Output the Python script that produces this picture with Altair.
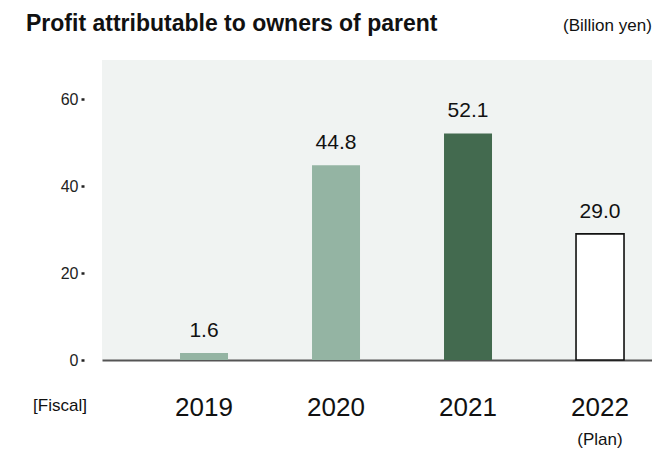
import altair as alt
import pandas as pd

years = ["2019", "2020", "2021", "2022"]
profits = [1.6, 44.8, 52.1, 29.0]
fills = ["#94b4a3", "#94b4a3", "#436a4f", "#ffffff"]
strokes = ["transparent", "transparent", "transparent", "#111111"]
y_ticks = [0, 20, 40, 60]

title_text = "Profit attributable to owners of parent"
unit_text = "(Billion yen)"
fiscal_text = "[Fiscal]"
plan_text = "(Plan)"

FONT = "Liberation Sans"

df = pd.DataFrame({"year": years, "profit": profits})

x_enc = alt.X(
    "year:N",
    sort=years,
    scale=alt.Scale(paddingInner=0.6364, paddingOuter=0.4015, align=0.736),
    axis=alt.Axis(
        title=None, labelAngle=0, ticks=False, labelPadding=34,
        labelFontSize=26, labelFont=FONT, labelColor="#111111",
        domainColor="#555555", domainWidth=2, grid=False,
    ),
)
y_enc = alt.Y(
    "profit:Q",
    scale=alt.Scale(domain=[0, 69], nice=False),
    axis=alt.Axis(
        title=None, values=y_ticks, offset=18, tickSize=3, tickWidth=2.5,
        tickColor="#222222", domain=False, grid=False, labelPadding=3,
        labelFontSize=16, labelFont=FONT, labelColor="#222222",
    ),
)

base = alt.Chart(df)

bars = base.mark_bar(strokeWidth=1.6).encode(
    x=x_enc,
    y=y_enc,
    fill=alt.Fill("year:N", scale=alt.Scale(domain=years, range=fills), legend=None),
    stroke=alt.Stroke("year:N", scale=alt.Scale(domain=years, range=strokes), legend=None),
)

labels = base.mark_text(
    baseline="alphabetic", dy=-16, fontSize=21, font=FONT, color="#111111"
).encode(
    x=alt.X("year:N", sort=years),
    y=alt.Y("profit:Q"),
    text=alt.Text("profit:Q", format=".1f"),
)

ann = pd.DataFrame({"t": [0]})
title_mark = alt.Chart(ann).mark_text(
    text=title_text, align="left", baseline="alphabetic", fontSize=23,
    fontWeight="bold", font=FONT, color="#111111",
).encode(x=alt.value(-76), y=alt.value(-29))

unit_mark = alt.Chart(ann).mark_text(
    text=unit_text, align="left", baseline="alphabetic", fontSize=17,
    font=FONT, color="#111111",
).encode(x=alt.value(461), y=alt.value(-29))

fiscal_mark = alt.Chart(ann).mark_text(
    text=fiscal_text, align="center", baseline="middle", fontSize=17,
    font=FONT, color="#111111",
).encode(x=alt.value(-42), y=alt.value(46 + 300))

plan_mark = alt.Chart(ann).mark_text(
    text=plan_text, align="center", baseline="middle", fontSize=17,
    font=FONT, color="#111111",
).encode(x=alt.value(498), y=alt.value(380))

chart = alt.layer(bars, labels, title_mark, unit_mark, fiscal_mark, plan_mark).properties(
    width=550,
    height=300,
    padding={"left": 102, "top": 60, "right": 0, "bottom": 91},
    autosize=alt.AutoSizeParams(type="none"),
    background="#ffffff",
).configure_view(fill="#f0f3f2", strokeWidth=0)

chart.save("out.html", embed_options={"renderer": "svg", "actions": False})
